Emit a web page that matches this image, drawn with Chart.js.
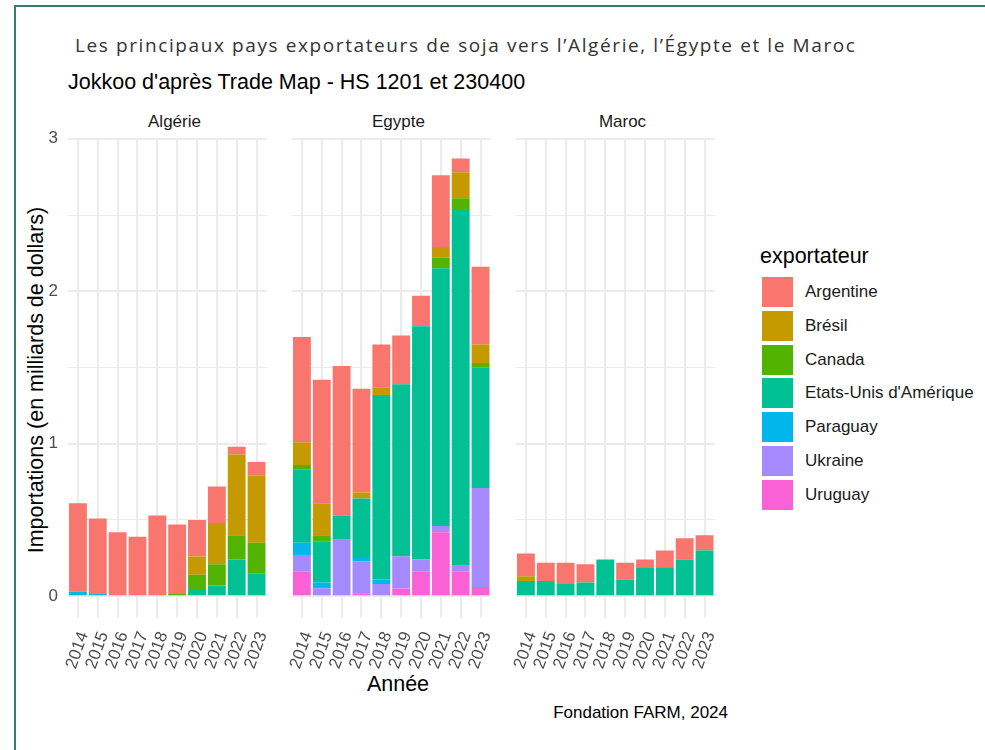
<!DOCTYPE html>
<html lang="fr">
<head>
<meta charset="utf-8">
<script src="https://cdn.jsdelivr.net/npm/chart.js@4.4.1/dist/chart.umd.min.js"></script>
<style>
    body { margin: 0; background: #fff; font-family: "Liberation Sans", Arial, sans-serif; }
    #page { position: relative; width: 985px; height: 750px; overflow: hidden; }
    #page canvas { position: absolute; }
    .txt { position: absolute; white-space: nowrap; color: #1a1a1a; }
    .frame-top { position: absolute; left: 14px; top: 5px; width: 971px; height: 2px; background: #3b7a73; }
    .frame-left { position: absolute; left: 14px; top: 5px; width: 2px; height: 745px; background: #3b7a73; }
    .key { position: absolute; width: 31px; height: 30px; }
</style>
</head>
<body>
<div id="page">
    <div class="frame-top"></div>
    <div class="frame-left"></div>

    <div class="txt" style="left:75px; top:31px; font-family:'Open Sans'; font-size:19px; letter-spacing:1.6px; color:#333; line-height:28px;">Les principaux pays exportateurs de soja vers l’Algérie, l’Égypte et le Maroc</div>
    <div class="txt" style="left:68px; top:68px; font-size:21.5px; line-height:28px; color:#000;">Jokkoo d'après Trade Map - HS 1201 et 230400</div>

    <div class="txt" style="left:68px; width:213px; top:111px; text-align:center; font-size:17px; line-height:22px;">Algérie</div>
    <div class="txt" style="left:292px; width:213px; top:111px; text-align:center; font-size:17px; line-height:22px;">Egypte</div>
    <div class="txt" style="left:516px; width:213px; top:111px; text-align:center; font-size:17px; line-height:22px;">Maroc</div>

    <div class="txt" style="left:36px; top:380px; font-size:21.5px; line-height:26px; color:#000; transform: translate(-50%, -50%) rotate(-90deg);">Importations (en milliards de dollars)</div>
    <div class="txt" style="left:68px; width:660px; top:670px; text-align:center; font-size:21.5px; line-height:28px; color:#000;">Année</div>
    <div class="txt" style="left:428px; width:300px; top:702px; text-align:right; font-size:17px; line-height:22px; color:#000;">Fondation FARM, 2024</div>

    <div id="legend"></div>

    <canvas id="panelAlg" width="287" height="562" style="left:0px; top:116px;"></canvas>
    <canvas id="panelEgy" width="239" height="562" style="left:272px; top:116px;"></canvas>
    <canvas id="panelMar" width="239" height="562" style="left:496px; top:116px;"></canvas>
</div>

<script>
const years = ['2014', '2015', '2016', '2017', '2018', '2019', '2020', '2021', '2022', '2023'];
const exporters = ['Argentine', 'Brésil', 'Canada', "Etats-Unis d'Amérique", 'Paraguay', 'Ukraine', 'Uruguay'];
const exporterColors = ['#F8766D', '#C49A00', '#53B400', '#00C094', '#00B6EB', '#A58AFF', '#FB61D7'];
const yTicks = [0, 1, 2, 3];

// Algérie, milliards de dollars
const algArgentine = [0.58, 0.49, 0.42, 0.39, 0.53, 0.45, 0.24, 0.24, 0.05, 0.09];
const algBresil    = [0, 0, 0, 0, 0, 0, 0.12, 0.27, 0.53, 0.44];
const algCanada    = [0, 0, 0, 0, 0, 0.02, 0.10, 0.14, 0.16, 0.20];
const algEtatsUnis = [0, 0, 0, 0, 0, 0, 0.04, 0.07, 0.24, 0.15];
const algParaguay  = [0.03, 0.02, 0, 0, 0, 0, 0, 0, 0, 0];
const algUkraine   = [0, 0, 0, 0, 0, 0, 0, 0, 0, 0];
const algUruguay   = [0, 0, 0, 0, 0, 0, 0, 0, 0, 0];

// Egypte
const egyArgentine = [0.69, 0.81, 0.98, 0.68, 0.28, 0.32, 0.20, 0.47, 0.09, 0.51];
const egyBresil    = [0.15, 0.21, 0, 0.04, 0.05, 0, 0, 0.07, 0.17, 0.12];
const egyCanada    = [0.03, 0.04, 0, 0, 0, 0, 0, 0.07, 0.07, 0.03];
const egyEtatsUnis = [0.48, 0.27, 0.16, 0.39, 1.21, 1.13, 1.53, 1.69, 2.34, 0.79];
const egyParaguay  = [0.08, 0.04, 0, 0.02, 0.03, 0, 0, 0, 0, 0];
const egyUkraine   = [0.11, 0.05, 0.37, 0.21, 0.08, 0.21, 0.08, 0.04, 0.04, 0.65];
const egyUruguay   = [0.16, 0, 0, 0.02, 0, 0.05, 0.16, 0.42, 0.16, 0.06];

// Maroc
const marArgentine = [0.15, 0.12, 0.14, 0.12, 0, 0.11, 0.05, 0.11, 0.14, 0.10];
const marBresil    = [0.03, 0, 0, 0, 0, 0, 0, 0, 0, 0];
const marCanada    = [0, 0, 0, 0, 0, 0, 0, 0, 0, 0];
const marEtatsUnis = [0.10, 0.10, 0.08, 0.09, 0.24, 0.11, 0.19, 0.19, 0.24, 0.30];
const marParaguay  = [0, 0, 0, 0, 0, 0, 0, 0, 0, 0];
const marUkraine   = [0, 0, 0, 0, 0, 0, 0, 0, 0, 0];
const marUruguay   = [0, 0, 0, 0, 0, 0, 0, 0, 0, 0];

const gridColor = '#EBEBEB';

function buildDatasets(series) {
    // ggplot stacks the first level on top, so the last exporter goes first
    return series.map((values, i) => ({
        label: exporters[i],
        data: values,
        backgroundColor: exporterColors[i],
        borderWidth: 0,
        barPercentage: 0.9,
        categoryPercentage: 1
    })).reverse();
}

function makePanel(canvasId, series, showYLabels) {
    return new Chart(document.getElementById(canvasId), {
        type: 'bar',
        data: {
            labels: years,
            datasets: buildDatasets(series)
        },
        options: {
            responsive: false,
            animation: false,
            events: [],
            // top padding is larger than the half-height of the "3" label so every panel gets the same area
            layout: { padding: { left: 20, top: 22, right: 6, bottom: 0 } },
            plugins: {
                legend: { display: false },
                tooltip: { enabled: false }
            },
            scales: {
                x: {
                    stacked: true,
                    offset: true,
                    border: { display: false },
                    grid: { offset: false, color: gridColor, lineWidth: 2, drawTicks: false },
                    ticks: {
                        autoSkip: false,
                        minRotation: 70,
                        maxRotation: 70,
                        padding: 11,
                        labelOffset: 6,
                        color: '#4D4D4D',
                        font: { family: 'Liberation Sans', size: 17 }
                    },
                    afterFit: scale => { scale.height = 60; }
                },
                y: {
                    stacked: true,
                    min: -0.143,
                    max: 3.005,
                    border: { display: false },
                    grid: {
                        color: gridColor,
                        drawTicks: false,
                        lineWidth: ctx => (ctx.tick && Number.isInteger(ctx.tick.value)) ? 2 : 1
                    },
                    afterBuildTicks: scale => {
                        const ticks = [];
                        for (let v = 0; v <= 3; v += 0.5) ticks.push({ value: v });
                        scale.ticks = ticks;
                    },
                    ticks: {
                        display: showYLabels,
                        padding: 10,
                        color: '#4D4D4D',
                        font: { family: 'Liberation Sans', size: 17 },
                        callback: value => yTicks.includes(value) ? String(value) : ''
                    },
                    afterFit: scale => { scale.width = showYLabels ? 48 : 0; }
                }
            }
        }
    });
}

function drawLegend() {
    const legend = document.getElementById('legend');
    let html = '<div class="txt" style="left:760px; top:242px; font-size:21.5px; line-height:28px; color:#000;">exportateur</div>';
    exporters.forEach((name, i) => {
        const top = 277 + i * 33.8;
        html += `<div class="key" style="left:762px; top:${top}px; background:${exporterColors[i]};"></div>`;
        html += `<div class="txt" style="left:805px; top:${top + 4}px; font-size:17px; line-height:22px;">${name}</div>`;
    });
    legend.innerHTML = html;
}

drawLegend();
makePanel('panelAlg', [algArgentine, algBresil, algCanada, algEtatsUnis, algParaguay, algUkraine, algUruguay], true);
makePanel('panelEgy', [egyArgentine, egyBresil, egyCanada, egyEtatsUnis, egyParaguay, egyUkraine, egyUruguay], false);
makePanel('panelMar', [marArgentine, marBresil, marCanada, marEtatsUnis, marParaguay, marUkraine, marUruguay], false);
</script>
</body>
</html>
